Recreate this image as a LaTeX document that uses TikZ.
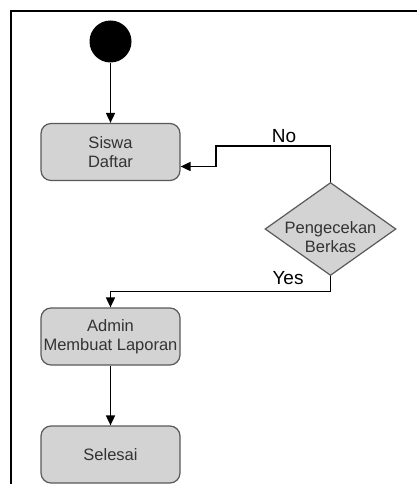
\documentclass[tikz,border=0pt]{standalone}
\usepackage{fontspec}
\setmainfont{Liberation Sans}
\usetikzlibrary{shapes.geometric,arrows.meta}
\definecolor{boxfill}{HTML}{D3D3D3}
\definecolor{boxline}{HTML}{595959}
\definecolor{boxtext}{HTML}{333333}
\begin{document}
\begin{tikzpicture}[x=1pt, y=-1pt,
    every node/.style={font=\fontsize{16.5}{19.5}\selectfont, text=boxtext},
    activity/.style={draw=boxline, fill=boxfill, line width=1.2pt, rounded corners=10pt,
      minimum width=139pt, minimum height=57pt, inner sep=0pt, align=center},
    decision/.style={draw=boxline, fill=boxfill, line width=1.2pt, diamond,
      minimum width=131pt, minimum height=93pt, inner sep=0pt},
    flow/.style={draw=black, line width=1.7pt, -{Triangle[length=10pt,width=9pt]}},
    guard/.style={text=black, font=\fontsize{19}{22}\selectfont}]
	\useasboundingbox (0,0) rectangle (417,484);
	\draw[line width=2pt] (11,484) -- (11,11.5) -- (417,11.5);

	\node[circle, fill=black, minimum size=42pt, inner sep=0pt] (start) at (110.5,41.5) {};
	\node[activity] (daftar) at (110.5,152) {Siswa\\Daftar};
	\node[decision, label={[align=center, yshift=-8pt]center:Pengecekan\\Berkas}] (cek) at (330.5,229) {};
	\node[activity] (laporan) at (110.5,336.5) {Admin\\Membuat Laporan};
	\node[activity] (selesai) at (110.5,454.5) {Selesai};

	\coordinate (notop) at (216,146);
	\coordinate (yesrow) at (0,291.5);

	\draw[flow] (start) -- (daftar);
	\draw[flow] (cek.north) |- (notop) |- ([yshift=-14.5pt]daftar.east);
	\draw[flow] (cek.south) |- (yesrow -| laporan.north) -- (laporan.north);
	\draw[flow] (laporan) -- (selesai);

	\node[guard] (nolabel) at (284,136) {No};
	\node[guard] (yeslabel) at (288,278) {Yes};
\end{tikzpicture}
\end{document}
